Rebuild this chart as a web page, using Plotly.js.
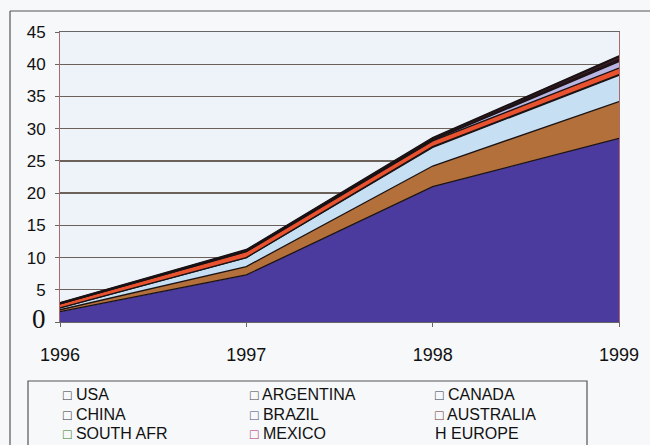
<!DOCTYPE html>
<html>
<head>
<meta charset="utf-8">
<script src="https://cdn.plot.ly/plotly-3.0.1.min.js"></script>
<style>
  html, body { margin: 0; padding: 0; background: #f7f8fa; }
  #chart { width: 650px; height: 445px; }
</style>
</head>
<body>
<div id="chart"></div>
<script>
// Years on the horizontal axis
const years = [1996, 1997, 1998, 1999];

// Series, bottom of the stack first
const usa       = [1.6, 7.3, 21.0, 28.5];
const argentina = [0.3, 1.3, 3.2, 5.7];
const canada    = [0.3, 1.4, 2.9, 4.1];
const china     = [0.0, 0.0, 0.1, 0.1];
const australia = [0.6, 0.9, 0.9, 1.0];
const brazil    = [0.0, 0.05, 0.1, 1.0];
const southAfr  = [0.05, 0.1, 0.1, 0.3];
const mexico    = [0.1, 0.1, 0.2, 0.4];
const europe    = [0.05, 0.1, 0.1, 0.2];

// Legend entries, in the order they are listed (three per row)
const legendNames   = ['USA', 'ARGENTINA', 'CANADA', 'CHINA', 'BRAZIL', 'AUSTRALIA', 'SOUTH AFR', 'MEXICO', 'EUROPE'];
const legendMarkers = ['□', '□', '□', '□', '□', '□', '□', '□', 'H'];

// Y tick labels
const yTickVals = [0, 5, 10, 15, 20, 25, 30, 35, 40, 45];
const yTickText = ['<span style="font-family:\'Liberation Serif\',serif;font-size:27px">0</span>',
                   '5', '10', '15', '20', '25', '30', '35', '40', '45'];

const stack = [
  { name: 'USA',       y: usa,       fill: '#4b3b9e' },
  { name: 'ARGENTINA', y: argentina, fill: '#b3703a' },
  { name: 'CANADA',    y: canada,    fill: '#c7dff2' },
  { name: 'CHINA',     y: china,     fill: '#d8e6f2' },
  { name: 'AUSTRALIA', y: australia, fill: '#e9522f' },
  { name: 'BRAZIL',    y: brazil,    fill: '#b9b5e2' },
  { name: 'SOUTH AFR', y: southAfr,  fill: '#2e1c20' },
  { name: 'MEXICO',    y: mexico,    fill: '#4a1f2b' },
  { name: 'EUROPE',    y: europe,    fill: '#1e1418' }
];

const traces = stack.map(s => ({
  type: 'scatter',
  mode: 'lines',
  x: years,
  y: s.y,
  name: s.name,
  stackgroup: 'one',
  fillcolor: s.fill,
  line: { color: '#1a1214', width: 1.3 },
  showlegend: false,
  hoverinfo: 'x+y+name'
}));

// Pixel geometry of the plot area
const L = 60, T = 32, W = 559, H = 290;
const px = x => (x - L) / W;
const py = y => (T + H - y) / H;

const markerColors = ['#333', '#444', '#2e3a55', '#333', '#4a4a78', '#6a3030', '#2f7a22', '#b02a70', '#222'];
const colX = [61, 248, 433];
const rowY = [394, 414, 434];

const annotations = legendNames.map((n, i) => ({
  xref: 'paper', yref: 'paper',
  x: px(colX[i % 3]), y: py(rowY[Math.floor(i / 3)]),
  xanchor: 'left', yanchor: 'middle',
  showarrow: false,
  align: 'left',
  text: (legendMarkers[i] === 'H'
          ? 'H '
          : '<span style="font-size:14px;color:' + markerColors[i] + '">' + legendMarkers[i] + '</span> ') + n,
  font: { family: 'Liberation Sans, Arial, sans-serif', size: 16, color: '#111' }
}));

const shapes = [
  // outer chart frame
  { type: 'line', xref: 'paper', yref: 'paper', x0: px(10), x1: px(10), y0: py(11), y1: py(450),
    line: { color: '#555', width: 1.2 } },
  { type: 'line', xref: 'paper', yref: 'paper', x0: px(10), x1: px(652), y0: py(11), y1: py(11),
    line: { color: '#555', width: 1.2 } },
  // legend box
  { type: 'rect', xref: 'paper', yref: 'paper', x0: px(28), x1: px(587), y0: py(452), y1: py(381),
    line: { color: '#555', width: 1.2 }, fillcolor: 'rgba(0,0,0,0)' }
];

const layout = {
  width: 650, height: 445,
  margin: { l: L, r: 650 - L - W, t: T, b: 445 - T - H },
  paper_bgcolor: '#f7f8fa',
  plot_bgcolor: '#eef3fa',
  font: { family: 'Liberation Sans, Arial, sans-serif', color: '#111' },
  xaxis: {
    range: [1996, 1999],
    tickvals: years,
    ticktext: years.map(String),
    showgrid: false,
    zeroline: false,
    showline: true, linecolor: '#666', linewidth: 1, mirror: true,
    ticks: 'outside', ticklen: 4, tickcolor: '#666',
    ticklabelstandoff: 12,
    tickfont: { size: 18, color: '#111' }
  },
  yaxis: {
    range: [0, 45],
    tickvals: yTickVals,
    ticktext: yTickText,
    showgrid: true, gridcolor: '#6c605a', gridwidth: 1.3,
    zeroline: false,
    showline: true, linecolor: '#a86a6a', linewidth: 1, mirror: true,
    ticks: 'outside', ticklen: 4, tickcolor: '#666',
    ticklabelstandoff: 6,
    tickfont: { size: 17, color: '#111' }
  },
  showlegend: false,
  annotations: annotations,
  shapes: shapes
};

Plotly.newPlot('chart', traces, layout, { displayModeBar: false, staticPlot: true });
</script>
</body>
</html>
